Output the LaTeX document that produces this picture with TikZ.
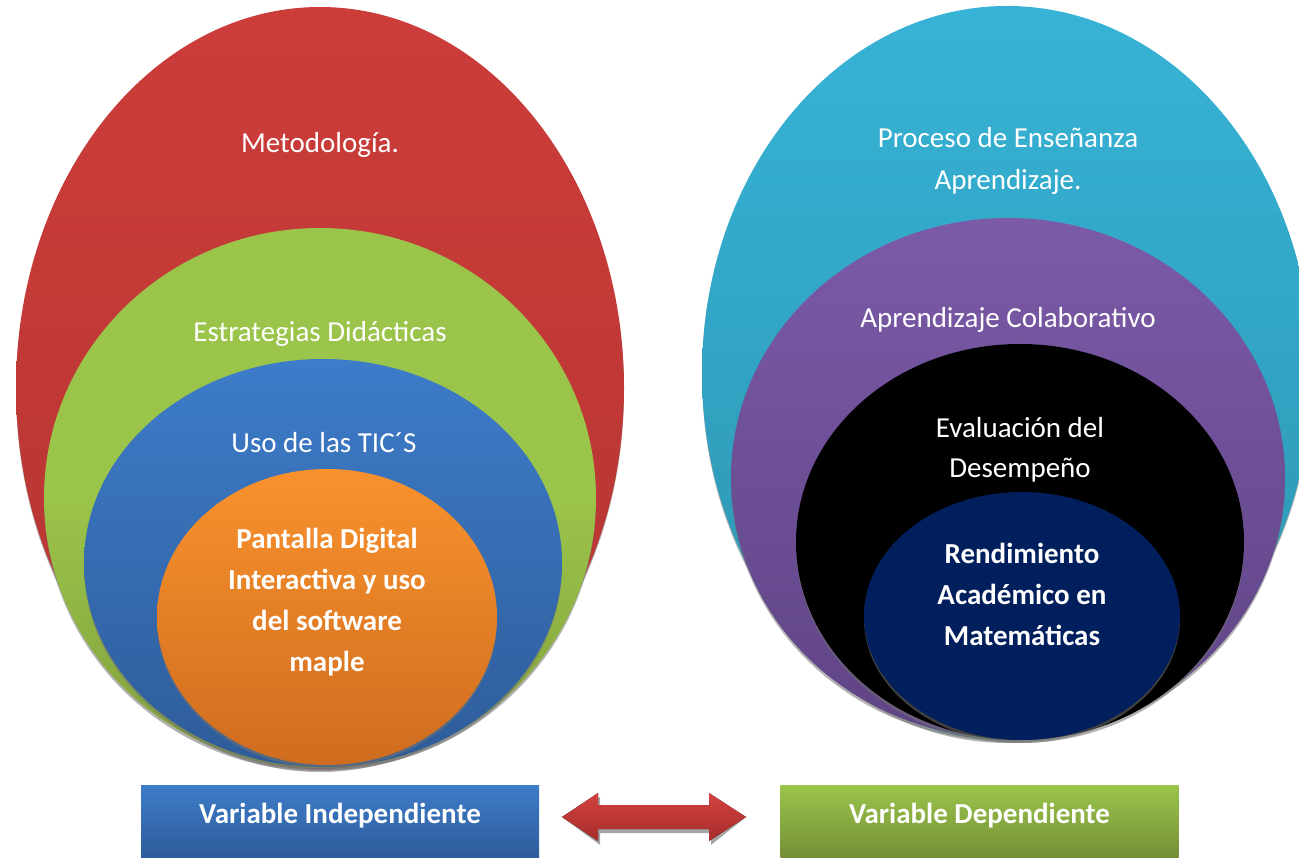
\documentclass[tikz,border=0pt]{standalone}
\usepackage{fontspec}
\setmainfont{Carlito}
\usetikzlibrary{shapes.geometric,shadows}

\definecolor{redTop}{HTML}{CC3D3A}
\definecolor{redBot}{HTML}{B33432}
\definecolor{grnTop}{HTML}{9BC44A}
\definecolor{grnBot}{HTML}{809F3D}
\definecolor{bluTop}{HTML}{3D7CC9}
\definecolor{bluBot}{HTML}{2E5C99}
\definecolor{orgTop}{HTML}{F9922D}
\definecolor{orgBot}{HTML}{CF6C1F}
\definecolor{cyaTop}{HTML}{37B3D7}
\definecolor{cyaBot}{HTML}{2C94AE}
\definecolor{purTop}{HTML}{7B5AA7}
\definecolor{purBot}{HTML}{5F4485}
\definecolor{navy}{HTML}{001F5C}
\definecolor{arrTop}{HTML}{D2423F}
\definecolor{arrBot}{HTML}{A52D2B}

\begin{document}
\begin{tikzpicture}[x=1pt,y=1pt,
  ring/.style={ellipse, draw=none, inner sep=0pt, outer sep=0pt,
    drop shadow={shadow xshift=0pt, shadow yshift=-3pt, fill=black!55, opacity=0.55}},
  lbl/.style={text=white, inner sep=0pt, align=center, anchor=base,
    font=\fontsize{29}{41}\selectfont},
  blbl/.style={lbl, font=\bfseries\fontsize{29}{41}\selectfont},
  varbox/.style={rectangle, draw=none, inner sep=0pt, outer sep=0pt,
    minimum width=398pt, minimum height=73pt}
]
\useasboundingbox (0,0) rectangle (1299,-858);

% left set of nested ellipses
\node[ring, top color=redTop, bottom color=redBot,
  minimum width=608pt, minimum height=762pt] (metod) at (320,-388) {};
\node[ring, top color=grnTop, bottom color=grnBot, middle color=grnTop,
  minimum width=552pt, minimum height=540pt] (estrat) at (320,-498) {};
\node[ring, top color=bluTop, bottom color=bluBot,
  minimum width=478pt, minimum height=408pt] (tics) at (323,-563) {};
\node[ring, top color=orgTop, bottom color=orgBot,
  minimum width=340pt, minimum height=296pt] (pantalla) at (327,-617) {};

% labels (multi-line labels are placed by the baseline of their last line)
\node[lbl] (tMetod) at (320,-153) {Metodología.};
\node[lbl] (tEstrat) at (320,-342) {Estrategias Didácticas};
\node[lbl] (tTics) at (324,-453) {Uso de las TIC´S};
\node[blbl] (tPantalla) at (327,-671) {Pantalla Digital\\Interactiva y uso\\del software\\maple};

% right set of nested ellipses
\node[ring, top color=cyaTop, bottom color=cyaBot,
  minimum width=610pt, minimum height=734pt] (proceso) at (1007,-373) {};
\node[ring, top color=purTop, bottom color=purBot,
  minimum width=554pt, minimum height=520pt] (colab) at (1008,-478) {};
\node[ring, fill=black,
  minimum width=448pt, minimum height=396pt] (evalua) at (1020,-542) {};
\node[ring, fill=navy,
  minimum width=316pt, minimum height=248pt] (rendim) at (1022,-616) {};

\node[lbl, font=\fontsize{29}{42}\selectfont] (tProceso) at (1008,-190) {Proceso de Enseñanza\\Aprendizaje.};
\node[lbl] (tColab) at (1008,-328) {Aprendizaje Colaborativo};
\node[lbl, font=\fontsize{29}{40}\selectfont] (tEvalua) at (1020,-478) {Evaluación del\\Desempeño};
\node[blbl] (tRendim) at (1022,-645) {Rendimiento\\Académico en\\Matemáticas};

% variable boxes
\node[varbox, top color=bluTop, bottom color=bluBot] (indep) at (340,-821.5) {};
\node[varbox, top color=grnTop, bottom color=grnBot!90!black] (dep) at (979.5,-821.5) {};
\node[blbl] (tIndep) at (340,-823) {Variable Independiente};
\node[blbl] (tDep) at (979.5,-823) {Variable Dependiente};

% double arrow between the two boxes
\coordinate (aL) at (562,-817);
\coordinate (aR) at (746,-817);
\fill[black!35, shift={(2pt,-4pt)}]
  (aL) -- (598,-793) -- (598,-805) -- (709,-805) -- (709,-793) -- (aR)
  -- (709,-841) -- (709,-829) -- (598,-829) -- (598,-841) -- cycle;
\fill[top color=arrTop, bottom color=arrBot]
  (aL) -- (598,-793) -- (598,-805) -- (709,-805) -- (709,-793) -- (aR)
  -- (709,-841) -- (709,-829) -- (598,-829) -- (598,-841) -- cycle;
\end{tikzpicture}
\end{document}
